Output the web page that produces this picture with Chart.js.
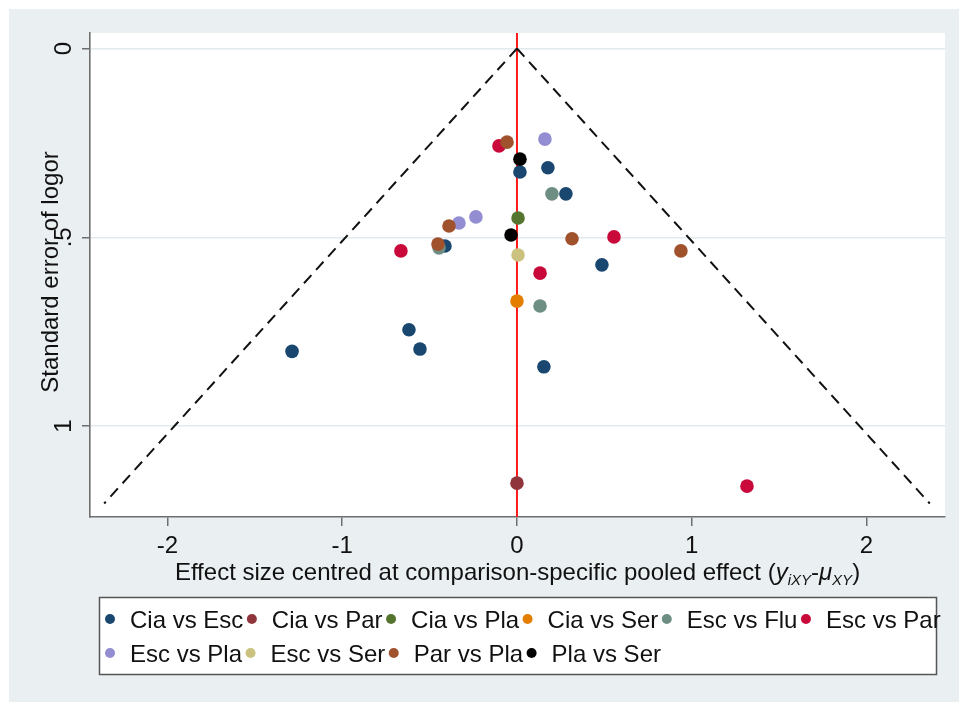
<!DOCTYPE html>
<html>
<head>
<meta charset="utf-8">
<script src="https://cdn.jsdelivr.net/npm/chart.js@4.4.1/dist/chart.umd.min.js"></script>
<style>
html,body{margin:0;padding:0;background:#fff;}
#wrap{width:959px;height:702px;position:relative;}
</style>
</head>
<body>
<div id="wrap"><canvas id="c" width="959" height="702"></canvas></div>
<script>
// ---- data ----
const categories = ["Cia vs Esc","Cia vs Par","Cia vs Pla","Cia vs Ser","Esc vs Flu","Esc vs Par","Esc vs Pla","Esc vs Ser","Par vs Pla","Pla vs Ser"];
const colors = ["#1a476f","#90353b","#55752f","#e37e00","#6e8e84","#c8093a","#938dd2","#cac27e","#a0522d","#000000"];

const effCiaEsc = [-1.287,-0.618,-0.555,0.154,0.486,-0.412,0.017,0.177,0.280];
const seCiaEsc  = [0.802,0.745,0.796,0.843,0.573,0.523,0.327,0.316,0.385];
const effCiaPar = [0.000];
const seCiaPar  = [1.151];
const effCiaPla = [0.006];
const seCiaPla  = [0.449];
const effCiaSer = [0.000];
const seCiaSer  = [0.669];
const effEscFlu = [0.200,0.132,-0.446];
const seEscFlu  = [0.385,0.682,0.528];
const effEscPar = [-0.664,-0.103,0.132,0.555,1.316];
const seEscPar  = [0.536,0.258,0.595,0.499,1.159];
const effEscPla = [0.160,-0.235,-0.332];
const seEscPla  = [0.240,0.446,0.462];
const effEscSer = [0.006];
const seEscSer  = [0.547];
const effParPla = [-0.057,-0.389,-0.452,0.315,0.938];
const seParPla  = [0.248,0.470,0.518,0.504,0.536];
const effPlaSer = [0.017,-0.034];
const sePlaSer  = [0.293,0.494];

const effects = [effCiaEsc,effCiaPar,effCiaPla,effCiaSer,effEscFlu,effEscPar,effEscPla,effEscSer,effParPla,effPlaSer];
const ses     = [seCiaEsc,seCiaPar,seCiaPla,seCiaSer,seEscFlu,seEscPar,seEscPla,seEscSer,seParPla,sePlaSer];

// pseudo 95% funnel limits
const funnelSE = [0, 1.205];
const funnelEffect = [0, 2.362];

const xTicks = [-2,-1,0,1,2];
const xTickLabels = ["-2","-1","0","1","2"];
const yTicks = [0,0.5,1];
const yTickLabels = ["0",".5","1"];
const yTitle = "Standard error of logor";
const legendRows = [[0,1,2,3,4,5],[6,7,8,9]];

const FONT = "'Liberation Sans', Arial, Helvetica, sans-serif";
const AXIS = "#6e6e6e";
const TEXT = "#111111";

const datasets = categories.map((name,i)=>({
  type:'scatter',
  label:name,
  data: effects[i].map((x,j)=>({x:x, y:ses[i][j]})),
  backgroundColor: colors[i],
  borderWidth:0,
  pointRadius:6.8,
  pointHoverRadius:6.8,
  order: 100 - i
}));
datasets.push({
  type:'line', label:'lower', data: funnelSE.map((s,k)=>({x:-funnelEffect[k], y:s})),
  borderColor:'#111', borderWidth:2, borderDash:[11,7], pointRadius:0, fill:false, order:1000
});
datasets.push({
  type:'line', label:'upper', data: funnelSE.map((s,k)=>({x:funnelEffect[k], y:s})),
  borderColor:'#111', borderWidth:2, borderDash:[11,7], pointRadius:0, fill:false, order:1000
});

const decor = {
  id:'decor',
  beforeDraw(chart){
    const {ctx, chartArea:a} = chart;
    ctx.save();
    ctx.fillStyle = '#ffffff';
    ctx.fillRect(0,0,chart.width,chart.height);
    ctx.fillStyle = '#eaeff2';
    ctx.fillRect(9,9,chart.width-9,chart.height-9);
    ctx.fillStyle = '#ffffff';
    ctx.fillRect(a.left,a.top,a.right-a.left,a.bottom-a.top);
    ctx.restore();
  },
  beforeDatasetsDraw(chart){
    const {ctx, chartArea:a, scales} = chart;
    const x0 = scales.x.getPixelForValue(0);
    ctx.save();
    ctx.strokeStyle = '#ff1a1a';
    ctx.lineWidth = 2;
    ctx.beginPath();
    ctx.moveTo(x0, a.top);
    ctx.lineTo(x0, a.bottom);
    ctx.stroke();
    ctx.restore();
  },
  afterDraw(chart){
    const {ctx, chartArea:a, scales} = chart;
    ctx.save();
    ctx.fillStyle = TEXT;
    // y tick labels (rotated)
    ctx.font = "24px " + FONT;
    ctx.textAlign = 'center';
    ctx.textBaseline = 'alphabetic';
    yTicks.forEach((v,k)=>{
      const y = scales.y.getPixelForValue(v);
      ctx.save();
      ctx.translate(71, y);
      ctx.rotate(-Math.PI/2);
      ctx.fillText(yTickLabels[k], 0, 0);
      ctx.restore();
    });
    // y title
    ctx.save();
    ctx.translate(58, (a.top+a.bottom)/2 - 3);
    ctx.rotate(-Math.PI/2);
    ctx.fillText(yTitle, 0, 0);
    ctx.restore();
    // x title with subscripts
    const parts = [
      {t:"Effect size centred at comparison-specific pooled effect (", f:"24px "+FONT, dy:0},
      {t:"y", f:"italic 24px "+FONT, dy:0},
      {t:"iXY", f:"italic 15px "+FONT, dy:5},
      {t:"-", f:"24px "+FONT, dy:0},
      {t:"\u03bc", f:"italic 24px "+FONT, dy:0},
      {t:"XY", f:"italic 15px "+FONT, dy:5},
      {t:")", f:"24px "+FONT, dy:0}
    ];
    let total = 0;
    parts.forEach(p=>{ ctx.font = p.f; p.w = ctx.measureText(p.t).width; total += p.w; });
    let xx = (a.left + a.right)/2 - total/2;
    ctx.textAlign = 'left';
    parts.forEach(p=>{ ctx.font = p.f; ctx.fillText(p.t, xx, 580 + p.dy); xx += p.w; });
    // legend
    ctx.fillStyle = '#ffffff';
    ctx.fillRect(99, 597, 838, 78);
    ctx.strokeStyle = '#555555';
    ctx.lineWidth = 1.5;
    ctx.strokeRect(99.5, 597.5, 837, 77);
    ctx.font = "24px " + FONT;
    const rowY = [619, 653];
    legendRows.forEach((row,r)=>{
      let x = 110;
      row.forEach(i=>{
        ctx.fillStyle = colors[i];
        ctx.beginPath();
        ctx.arc(x, rowY[r], 5, 0, Math.PI*2);
        ctx.fill();
        ctx.fillStyle = TEXT;
        ctx.fillText(categories[i], x + 20, rowY[r] + 8.5);
        x += 20 + ctx.measureText(categories[i]).width + 8.5;
      });
    });
    ctx.restore();
  }
};

new Chart(document.getElementById('c'), {
  type:'scatter',
  data:{datasets:datasets},
  options:{
    responsive:false,
    animation:false,
    layout:{padding:{left:0,top:33,right:14,bottom:0}},
    plugins:{legend:{display:false}, tooltip:{enabled:false}},
    scales:{
      x:{
        type:'linear', position:'bottom', min:-2.443, max:2.449,
        afterBuildTicks: s => { s.ticks = xTicks.map(v=>({value:v})); },
        afterFit: s => { s.height = 185; },
        ticks:{
          font:{family:FONT, size:24}, color:TEXT, padding:6,
          maxRotation:0, minRotation:0, autoSkip:false,
          callback:(v)=>{ const k = xTicks.indexOf(v); return k>=0 ? xTickLabels[k] : ''; }
        },
        grid:{drawOnChartArea:false, drawTicks:true, tickLength:9, tickColor:AXIS, lineWidth:1.5},
        border:{display:true, color:AXIS, width:1.6}
      },
      y:{
        type:'linear', position:'left', reverse:true, min:-0.041, max:1.2407,
        afterBuildTicks: s => { s.ticks = yTicks.map(v=>({value:v})); },
        afterFit: s => { s.width = 90; },
        ticks:{display:false},
        grid:{color:'#e3eaee', lineWidth:1.5, drawTicks:true, tickLength:8, tickColor:AXIS},
        border:{display:true, color:AXIS, width:1.6}
      }
    }
  },
  plugins:[decor]
});
</script>
</body>
</html>
